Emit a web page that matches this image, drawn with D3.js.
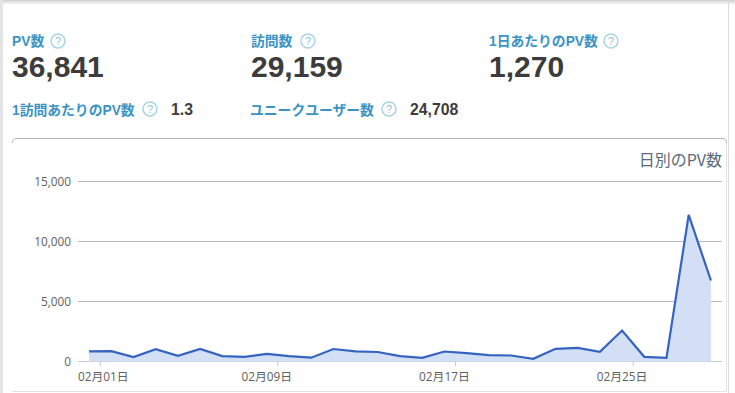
<!DOCTYPE html>
<html>
<head>
<meta charset="utf-8">
<script src="https://cdn.jsdelivr.net/npm/d3@7"></script>
<style>
  html, body { margin: 0; padding: 0; background: #fff; overflow: hidden; }
  svg { display: block; }
  .label { font-family: "Liberation Sans", "Noto Sans CJK JP", sans-serif; font-weight: 700; font-size: 13.8px; fill: #3a93c4; }
  .big { font-family: "Liberation Sans", sans-serif; font-weight: 700; font-size: 30px; fill: #3c3c3c; }
  .small { font-family: "Liberation Sans", sans-serif; font-weight: 700; font-size: 15.8px; fill: #3c3c3c; }
  .help { font-family: "Liberation Sans", sans-serif; font-size: 11px; fill: #8fbfd4; }
  .axis text { font-family: "Open Sans", "Noto Sans CJK JP", sans-serif; font-size: 11.8px; fill: #606060; }
</style>
</head>
<body>
<div id="chart"></div>
<script>
const days = ["02月01日", "02月02日", "02月03日", "02月04日", "02月05日", "02月06日", "02月07日", "02月08日",
  "02月09日", "02月10日", "02月11日", "02月12日", "02月13日", "02月14日", "02月15日", "02月16日",
  "02月17日", "02月18日", "02月19日", "02月20日", "02月21日", "02月22日", "02月23日", "02月24日",
  "02月25日", "02月26日", "02月27日", "02月28日", "02月29日"];
const pageViews = [850, 860, 370, 1020, 470, 1050, 450, 390, 630, 450, 320, 1040, 840, 790, 444,
  306, 833, 694, 528, 500, 222, 1055, 1139, 806, 2583, 390, 306, 12222, 6750];
const yTicks = [0, 5000, 10000, 15000];
const xTickDays = ["02月01日", "02月09日", "02月17日", "02月25日"];

const headStats = [
  { name: "PV数", value: "36,841", x: 12, helpX: 58 },
  { name: "訪問数", value: "29,159", x: 251, helpX: 308 },
  { name: "1日あたりのPV数", value: "1,270", x: 489, helpX: 611 }
];
const subStats = [
  { name: "1訪問あたりのPV数", value: "1.3", x: 12, helpX: 150, valueX: 171 },
  { name: "ユニークユーザー数", value: "24,708", x: 250, helpX: 389, valueX: 410 }
];

const width = 735;
const height = 393;

const svg = d3.select("#chart")
  .append("svg")
  .attr("width", width)
  .attr("height", height);

// page edges, the screenshot cuts the surrounding card
const shade = svg.append("defs").append("linearGradient")
  .attr("id", "top-shade")
  .attr("x1", 0).attr("x2", 0).attr("y1", 0).attr("y2", 1);
shade.append("stop").attr("offset", 0).attr("stop-color", "#d0d0d0");
shade.append("stop").attr("offset", 1).attr("stop-color", "#ffffff");
svg.append("rect").attr("width", width).attr("height", 5).attr("fill", "url(#top-shade)");
svg.append("rect").attr("width", 3).attr("height", height).attr("fill", "#e4e4e4");
svg.append("rect").attr("x", 728).attr("width", 1).attr("height", height).attr("fill", "#dcdcdc");

function drawHelp(x, y) {
  svg.append("circle")
    .attr("cx", x).attr("cy", y).attr("r", 7)
    .attr("fill", "#fff").attr("stroke", "#a9d4e6").attr("stroke-width", 1.5);
  svg.append("text").attr("class", "help")
    .attr("x", x).attr("y", y + 4).attr("text-anchor", "middle").text("?");
}

headStats.forEach(function (d) {
  svg.append("text").attr("class", "label").attr("x", d.x).attr("y", 46).text(d.name);
  drawHelp(d.helpX, 41);
  svg.append("text").attr("class", "big").attr("x", d.x).attr("y", 77).text(d.value);
});

subStats.forEach(function (d) {
  svg.append("text").attr("class", "label").attr("x", d.x).attr("y", 115).text(d.name);
  drawHelp(d.helpX, 109);
  svg.append("text").attr("class", "small").attr("x", d.valueX).attr("y", 115).text(d.value);
});

// chart frame
svg.append("path")
  .attr("d", "M12.5,143 Q12.5,138.5 17,138.5 H722 Q726.5,138.5 726.5,143")
  .attr("fill", "none").attr("stroke", "#b4b4b4");
svg.append("path")
  .attr("d", "M726.5,143 V391.5 H12.5")
  .attr("fill", "none").attr("stroke", "#e2e2e2");

svg.append("text")
  .attr("x", 722).attr("y", 166)
  .attr("text-anchor", "end")
  .attr("font-family", "'Noto Sans CJK JP', sans-serif")
  .attr("font-size", 16)
  .attr("fill", "#5b6b7b")
  .text("日別のPV数");

const x = d3.scaleBand().domain(days).range([78, 722]);
const y = d3.scaleLinear().domain([0, 15000]).range([361.5, 181.5]);

// gridlines
svg.append("g")
  .selectAll("line")
  .data(yTicks)
  .enter()
  .append("line")
  .attr("x1", x.range()[0])
  .attr("x2", x.range()[1])
  .attr("y1", (d) => y(d))
  .attr("y2", (d) => y(d))
  .attr("stroke", (d) => (d === 0 ? "#c4cbd4" : "#b8b8b8"));

const yAxis = d3.axisLeft(y)
  .tickValues(yTicks)
  .tickSize(0)
  .tickPadding(7)
  .tickFormat(d3.format(","));
svg.append("g")
  .attr("class", "axis")
  .attr("transform", "translate(78,0)")
  .call(yAxis)
  .call((g) => g.select(".domain").remove());

// area and line go through the band centres
const cx = (d) => x(d) + x.bandwidth() / 2;
const area = d3.area()
  .x((d, i) => cx(days[i]))
  .y0(y(0))
  .y1((d) => y(d));
const line = d3.line()
  .x((d, i) => cx(days[i]))
  .y((d) => y(d));

svg.append("path").datum(pageViews).attr("d", area).attr("fill", "#d2dff5");
svg.append("path").datum(pageViews)
  .attr("d", line)
  .attr("fill", "none")
  .attr("stroke", "#3563c0")
  .attr("stroke-width", 2.2);

// ticks sit on the right edge of the band, labels stay centred on the band
const xAxis = svg.append("g").attr("class", "axis");
xAxis.selectAll("line")
  .data(xTickDays)
  .enter()
  .append("line")
  .attr("x1", (d) => x(d) + x.bandwidth())
  .attr("x2", (d) => x(d) + x.bandwidth())
  .attr("y1", 361.5)
  .attr("y2", 366)
  .attr("stroke", "#c4cbd4");
xAxis.selectAll("text")
  .data(xTickDays)
  .enter()
  .append("text")
  .attr("x", (d, i) => (i === 0 ? x.range()[0] : cx(d)))
  .attr("y", 381)
  .attr("text-anchor", (d, i) => (i === 0 ? "start" : "middle"))
  .text((d) => d);
</script>
</body>
</html>
